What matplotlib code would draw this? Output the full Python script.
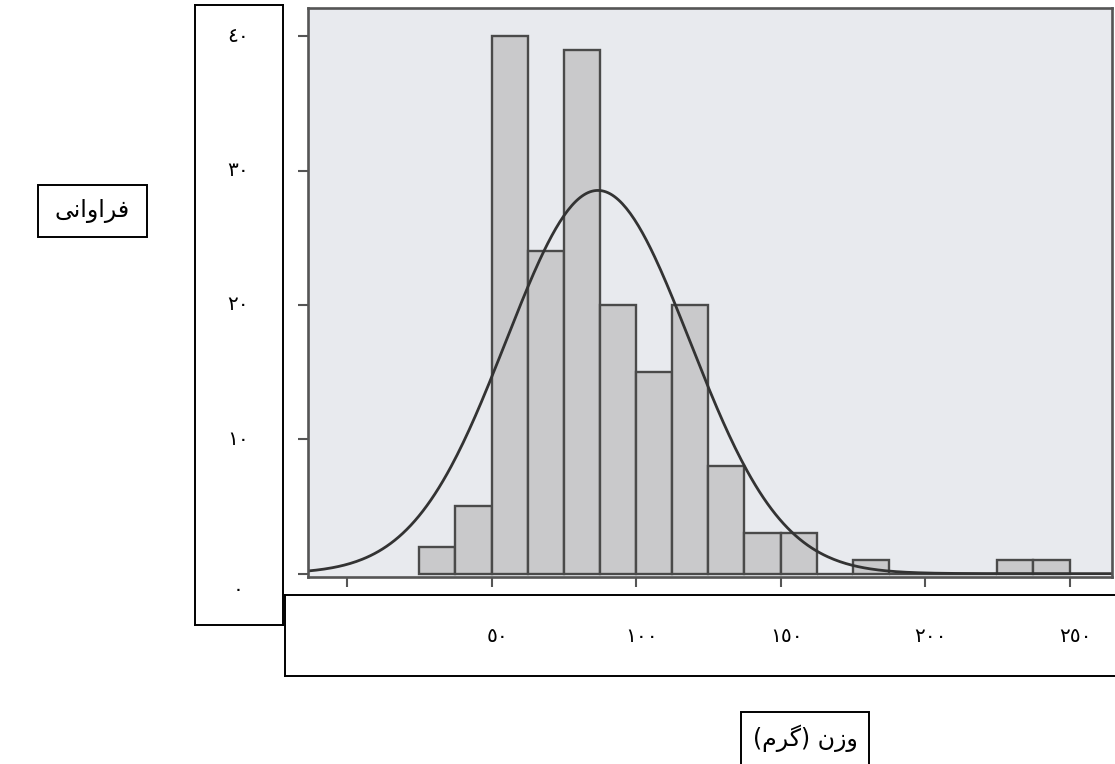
import numpy as np
import matplotlib.pyplot as plt
from matplotlib.patches import Rectangle
from matplotlib.transforms import blended_transform_factory

# histogram bins (weight in grams) and counts
bin_edges = [25, 37.5, 50, 62.5, 75, 87.5, 100, 112.5, 125, 137.5, 150, 162.5,
             175, 187.5, 200, 212.5, 225, 237.5, 250]
counts = [2, 5, 40, 24, 39, 20, 15, 20, 8, 3, 3, 0, 1, 0, 0, 0, 1, 1]

x_ticks = [0, 50, 100, 150, 200, 250]
x_tick_labels = ["", "٥٠", "١٠٠", "١٥٠", "٢٠٠", "٢٥٠"]
y_ticks = [0, 10, 20, 30, 40]
y_tick_labels = ["٠", "١٠", "٢٠", "٣٠", "٤٠"]

# Persian labels, pre-shaped in visual order (matplotlib does no bidi/shaping)
ylabel_text = "\uFEF0\uFEE7\uFE8D\uFEED\uFE8D\uFEAE\uFED3"            # فراوانی
xlabel_text = "(\uFEE1\uFEAE\uFB94) \uFEE5\uFEAF\uFEED"               # وزن (گرم)

W, H = 1115, 764
fig = plt.figure(figsize=(W / 100, H / 100), dpi=100)
fig.patch.set_facecolor("white")

def fbox(x0, y0, x1, y1):
    # pixel box (top-left origin) -> figure fraction rect
    return [x0 / W, 1 - y1 / H, (x1 - x0) / W, (y1 - y0) / H]

# main histogram panel
ax = fig.add_axes(fbox(308, 8, 1112, 577))
ax.set_facecolor("#e8eaee")
edges = np.array(bin_edges)
cnt = np.array(counts)
widths = np.diff(edges)
ax.bar(edges[:-1], cnt, width=widths, align="edge", color="#c9c9cb",
       edgecolor="#4a4a4a", linewidth=1.7)

# fitted normal curve from the binned data
mids = edges[:-1] + widths / 2
n = cnt.sum()
mu = np.sum(cnt * mids) / n
sd = np.sqrt(np.sum(cnt * (mids - mu) ** 2) / (n - 1))
xs = np.linspace(-13.5, 264.7, 400)
ys = n * widths[0] * np.exp(-0.5 * ((xs - mu) / sd) ** 2) / (sd * np.sqrt(2 * np.pi))
ax.plot(xs, ys, color="#333333", linewidth=2.0)

ax.set_xlim(-13.5, 264.7)
ax.set_ylim(-0.25, 42.1)
ax.set_xticks(x_ticks)
ax.set_yticks(y_ticks)
ax.set_xticklabels([])
ax.set_yticklabels([])
ax.tick_params(direction="out", length=7, width=1.5, color="#555555")
for s in ax.spines.values():
    s.set_color("#555555")
    s.set_linewidth(1.9)

# white boxes holding the tick labels
axl = fig.add_axes(fbox(195, 5, 283, 625))
axb = fig.add_axes(fbox(285, 595, 1125, 676))
for a in (axl, axb):
    a.set_facecolor("white")
    a.set_xticks([])
    a.set_yticks([])
    for s in a.spines.values():
        s.set_color("black")
        s.set_linewidth(1.4)

ty = blended_transform_factory(fig.transFigure, ax.transData)
for v, lab in zip(y_ticks, y_tick_labels):
    yy = v if v > 0 else -1.2
    fig.text(238 / W, yy, lab, transform=ty, ha="center", va="center",
             fontsize=14.5, family="DejaVu Sans")

tx = blended_transform_factory(ax.transData, fig.transFigure)
for v, lab in zip(x_ticks, x_tick_labels):
    fig.text(v + 2, 1 - 636 / H, lab, transform=tx, ha="center", va="center",
             fontsize=14.5, family="DejaVu Sans")

# boxed axis titles
fig.patches.append(Rectangle((38 / W, 1 - 237 / H), 109 / W, 52 / H,
                             transform=fig.transFigure, fill=False,
                             edgecolor="black", linewidth=1.4))
fig.text(92 / W, 1 - 211 / H, ylabel_text, ha="center", va="center",
         fontsize=17, family="DejaVu Sans")
fig.patches.append(Rectangle((741 / W, 1 - 770 / H), 128 / W, 58 / H,
                             transform=fig.transFigure, fill=False,
                             edgecolor="black", linewidth=1.4))
fig.text(805 / W, 1 - 738 / H, xlabel_text, ha="center", va="center",
         fontsize=17, family="DejaVu Sans")

fig.savefig("out.png", dpi=100)
